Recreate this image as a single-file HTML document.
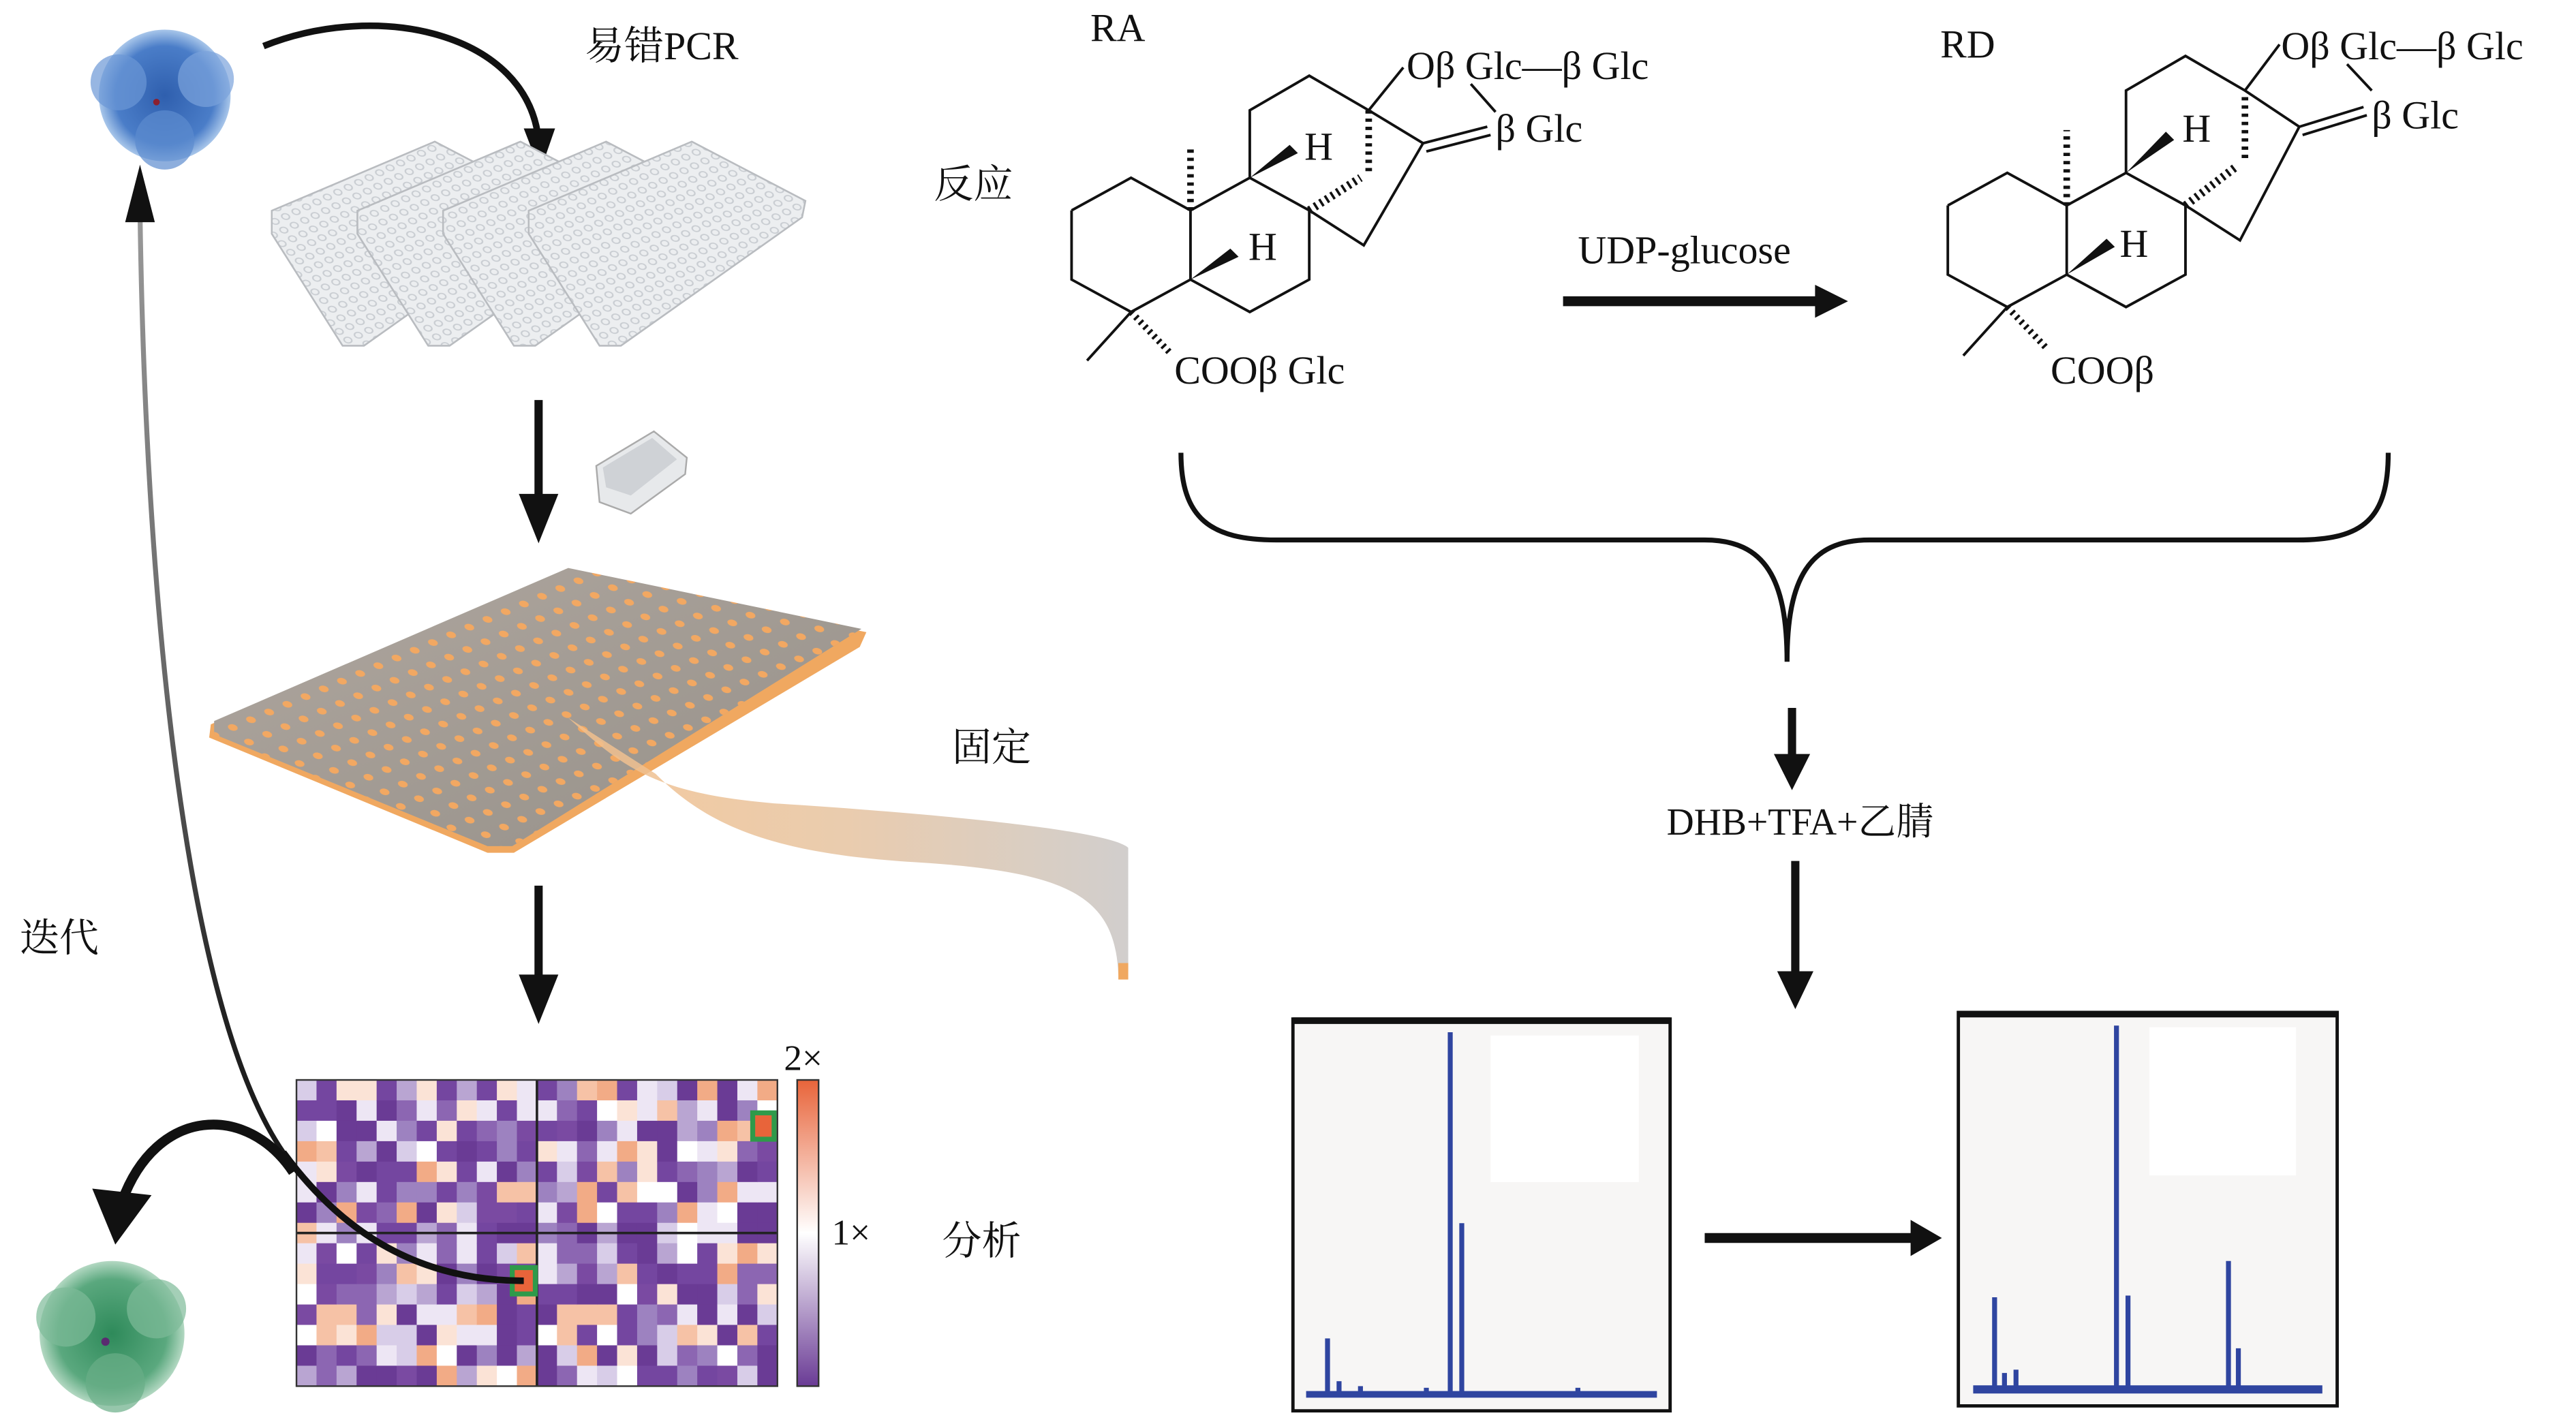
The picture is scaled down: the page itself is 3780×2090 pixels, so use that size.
<!DOCTYPE html>
<html><head><meta charset="utf-8"><style>
html,body{margin:0;padding:0;background:#fff;width:3780px;height:2090px;overflow:hidden}
svg{display:block}
.t{font-family:"Liberation Serif","Noto Serif CJK SC",serif;fill:#111}
.c{font-family:"Liberation Serif","Noto Serif CJK SC","Noto Sans CJK SC",serif;fill:#111}
</style></head><body>
<svg width="3780" height="2090" viewBox="0 0 1564 865" preserveAspectRatio="none" xmlns="http://www.w3.org/2000/svg">
<defs>
<pattern id="dots" width="12" height="12" patternUnits="userSpaceOnUse" patternTransform="rotate(-23) skewX(25)">
<circle cx="6" cy="6" r="2.4" fill="#f2a862"/></pattern>
<pattern id="wells" width="7" height="7" patternUnits="userSpaceOnUse" patternTransform="rotate(-25) skewX(20)">
<circle cx="3.5" cy="3.5" r="2" fill="none" stroke="#c9cdd2" stroke-width=".8"/></pattern>
<linearGradient id="pg" x1="0" y1="0" x2="1" y2="1"><stop offset="0" stop-color="#b0a79f"/><stop offset="1" stop-color="#959089"/></linearGradient>
<linearGradient id="rib" x1="0" y1="0" x2="1" y2="0"><stop offset="0" stop-color="#f2c08c"/><stop offset=".5" stop-color="#e6c3a0"/><stop offset="1" stop-color="#c9c6c4"/></linearGradient>
<linearGradient id="cb" x1="0" y1="0" x2="0" y2="1"><stop offset="0" stop-color="#e8643a"/><stop offset=".5" stop-color="#ffffff"/><stop offset="1" stop-color="#6a3b95"/></linearGradient>
<linearGradient id="it" x1="0" y1="0" x2="0" y2="1"><stop offset="0" stop-color="#999"/><stop offset=".45" stop-color="#666"/><stop offset=".75" stop-color="#222"/><stop offset="1" stop-color="#111"/></linearGradient>
<radialGradient id="bp"><stop offset="0" stop-color="#2f5fae"/><stop offset=".75" stop-color="#4a7dc8"/><stop offset="1" stop-color="#a8c6ea"/></radialGradient>
<radialGradient id="gp"><stop offset="0" stop-color="#2e8a5a"/><stop offset=".75" stop-color="#5aa87e"/><stop offset="1" stop-color="#b3d8c2"/></radialGradient>
</defs>

<g>
<circle cx="100" cy="58" r="40" fill="url(#bp)"/>
<circle cx="72" cy="50" r="17" fill="#6b97d6" opacity=".7"/>
<circle cx="125" cy="48" r="17" fill="#7aa3dc" opacity=".7"/>
<circle cx="100" cy="85" r="18" fill="#5d8ccf" opacity=".7"/>
<circle cx="95" cy="62" r="2" fill="#8a2030"/>
</g>
<g>
<circle cx="68" cy="810" r="44" fill="url(#gp)"/>
<circle cx="40" cy="800" r="18" fill="#7dbb98" opacity=".7"/>
<circle cx="95" cy="795" r="18" fill="#7dbb98" opacity=".7"/>
<circle cx="70" cy="840" r="18" fill="#6aae88" opacity=".7"/>
<circle cx="64" cy="815" r="2.5" fill="#5a2a70"/>
</g>

<path d="M160,28 C230,0 320,20 327,85" fill="none" stroke="#111" stroke-width="4"/>
<polygon points="318,78 337,78 328,104" fill="#111"/>
<text x="355" y="36" class="c" font-size="24">易错PCR</text>

<g stroke="#b9bcc0" stroke-width="1">
<polygon points="165,128 264,86 333,122 331,132 221,210 208,210 165,142" fill="#eceef0"/>
<polygon points="165,128 264,86 333,122 331,132 221,210 208,210 165,142" fill="url(#wells)"/>
<polygon points="217,128 316,86 385,122 383,132 273,210 260,210 217,142" fill="#eceef0"/>
<polygon points="217,128 316,86 385,122 383,132 273,210 260,210 217,142" fill="url(#wells)"/>
<polygon points="269,128 368,86 437,122 435,132 325,210 312,210 269,142" fill="#eceef0"/>
<polygon points="269,128 368,86 437,122 435,132 325,210 312,210 269,142" fill="url(#wells)"/>
<polygon points="321,128 420,86 489,122 487,132 377,210 364,210 321,142" fill="#eceef0"/>
<polygon points="321,128 420,86 489,122 487,132 377,210 364,210 321,142" fill="url(#wells)"/>
</g>
<line x1="327" y1="243" x2="327" y2="308" stroke="#111" stroke-width="5"/>
<polygon points="315,300 339,300 327,330" fill="#111"/>
<polygon points="362,283 397,262 417,278 416,288 383,312 364,305" fill="#e7e9eb" stroke="#aaa" stroke-width="1"/>
<polygon points="366,284 396,266 411,279 383,301 368,296" fill="#cfd2d6"/>

<polygon points="128,440 345,347 526,384 522,393 312,518 296,518 127,448" fill="#f0a860"/>
<polygon points="130,438 345,345 523,382 311,514 296,514 130,446" fill="url(#pg)"/>
<polygon points="130,438 345,345 523,382 311,514 296,514 130,446" fill="url(#dots)"/>
<path d="M345,436 C380,468 400,482 470,488 C580,495 675,505 685,515 L685,590 L679,592 C677,545 650,530 560,524 C470,519 430,502 398,470 Z" fill="url(#rib)" opacity=".85"/>
<rect x="679" y="585" width="6" height="10" fill="#f0a860"/>
<text x="578" y="462" class="c" font-size="24">固定</text>

<line x1="327" y1="538" x2="327" y2="598" stroke="#111" stroke-width="5"/>
<polygon points="315,592 339,592 327,622" fill="#111"/>

<rect x="180" y="656" width="292" height="186" fill="#6d3f99"/>
<g id="hm"></g>
<line x1="326" y1="656" x2="326" y2="842" stroke="#222" stroke-width="1.5"/>
<line x1="180" y1="749" x2="472" y2="749" stroke="#222" stroke-width="1.5"/>
<rect x="180" y="656" width="292" height="186" fill="none" stroke="#333" stroke-width="1"/>
<rect x="457" y="676" width="13" height="16" fill="#e8643a" stroke="#2f9a4a" stroke-width="3"/>
<rect x="311" y="770" width="14" height="16" fill="#e8643a" stroke="#2f9a4a" stroke-width="3"/>
<rect x="484" y="656" width="13" height="186" fill="url(#cb)" stroke="#333" stroke-width="1"/>
<text x="476" y="650" class="t" font-size="22">2×</text>
<text x="505" y="756" class="t" font-size="22">1×</text>
<text x="572" y="762" class="c" font-size="24">分析</text>
<text x="12" y="578" class="c" font-size="24">迭代</text>

<path d="M318,778 C250,778 205,745 172,700 C110,610 88,350 85,128" fill="none" stroke="url(#it)" stroke-width="3"/>
<polygon points="76,135 94,135 85,100" fill="#111"/>
<path d="M318,778 C250,778 205,745 172,700" fill="none" stroke="#111" stroke-width="4"/>
<path d="M178,712 C150,670 95,672 74,730" fill="none" stroke="#111" stroke-width="6"/>
<polygon points="56,722 92,726 70,756" fill="#111"/>

<text x="662" y="25" class="t" font-size="24">RA</text>
<text x="567" y="120" class="c" font-size="24">反应</text>
<g fill="none" stroke="#111" stroke-width="1.6">
<polyline points="650.6,127.8 686.7,108 722.8,127.8 722.8,169.8 686.7,189.5 650.6,169.8 650.6,127.8"/>
<polyline points="722.8,127.8 758.8,108 794.9,127.8 794.9,169.8 758.8,189.5 722.8,169.8"/>
<polyline points="758.8,108 758.8,67 794.9,46 831,67 864,87 828,149 794.9,127.8"/>
<line x1="831" y1="67" x2="852" y2="41"/>
<line x1="893" y1="51" x2="908" y2="68"/>
<line x1="864" y1="87" x2="903" y2="77"/>
<line x1="866" y1="92" x2="905" y2="82"/>
<line x1="686.7" y1="189.5" x2="660" y2="219"/>
<line x1="831" y1="67" x2="831" y2="104" stroke-dasharray="2,3" stroke-width="4"/>
<line x1="722.8" y1="127.8" x2="722.8" y2="88" stroke-dasharray="2,3" stroke-width="4"/>
<line x1="794.9" y1="127.8" x2="826" y2="108" stroke-dasharray="1.5,2.5" stroke-width="5"/>
<line x1="686.7" y1="189.5" x2="711" y2="215" stroke-dasharray="1.5,2.5" stroke-width="4"/>
</g>
<polygon points="758.8,108 783,88 788,93" fill="#111"/>
<polygon points="722.8,169.8 747,151 752,156" fill="#111"/>
<text x="792" y="97" class="t" font-size="24">H</text>
<text x="758" y="158" class="t" font-size="24">H</text>
<text x="854" y="48" class="t" font-size="24">Oβ Glc—β Glc</text>
<text x="908" y="86" class="t" font-size="24">β Glc</text>
<text x="713" y="233" class="t" font-size="24">COOβ Glc</text>

<text x="958" y="160" class="t" font-size="24">UDP-glucose</text>
<line x1="949" y1="183" x2="1105" y2="183" stroke="#111" stroke-width="6"/>
<polygon points="1102,173 1122,183 1102,193" fill="#111"/>

<text x="1178" y="35" class="t" font-size="24">RD</text>
<g fill="none" stroke="#111" stroke-width="1.6" transform="translate(532,-3)">
<polyline points="650.6,127.8 686.7,108 722.8,127.8 722.8,169.8 686.7,189.5 650.6,169.8 650.6,127.8"/>
<polyline points="722.8,127.8 758.8,108 794.9,127.8 794.9,169.8 758.8,189.5 722.8,169.8"/>
<polyline points="758.8,108 758.8,58 794.9,37 831,58 864,80 828,149 794.9,127.8"/>
<line x1="831" y1="58" x2="852" y2="30"/>
<line x1="893" y1="42" x2="908" y2="58"/>
<line x1="864" y1="80" x2="903" y2="68"/>
<line x1="866" y1="85" x2="905" y2="73"/>
<line x1="686.7" y1="189.5" x2="660" y2="219"/>
<line x1="831" y1="62" x2="831" y2="100" stroke-dasharray="2,3" stroke-width="4"/>
<line x1="722.8" y1="127.8" x2="722.8" y2="82" stroke-dasharray="2,3" stroke-width="4"/>
<line x1="794.9" y1="127.8" x2="826" y2="104" stroke-dasharray="1.5,2.5" stroke-width="5"/>
<line x1="686.7" y1="189.5" x2="711" y2="215" stroke-dasharray="1.5,2.5" stroke-width="4"/>
<polygon points="758.8,108 783,83 788,88" fill="#111" stroke="none"/>
<polygon points="722.8,169.8 747,148 752,153" fill="#111" stroke="none"/>
</g>
<text x="1325" y="86" class="t" font-size="24">H</text>
<text x="1287" y="156" class="t" font-size="24">H</text>
<text x="1385" y="36" class="t" font-size="24">Oβ Glc—β Glc</text>
<text x="1440" y="78" class="t" font-size="24">β Glc</text>
<text x="1245" y="233" class="t" font-size="24">COOβ</text>

<path d="M717,275 C717,315 735,328 775,328 L1035,328 C1072,328 1085,352 1085,402 C1085,352 1098,328 1135,328 L1395,328 C1435,328 1450,315 1450,275" fill="none" stroke="#111" stroke-width="3"/>
<line x1="1088" y1="430" x2="1088" y2="462" stroke="#111" stroke-width="5"/>
<polygon points="1077,458 1099,458 1088,480" fill="#111"/>
<text x="1093" y="507" class="c" font-size="23" text-anchor="middle">DHB+TFA+乙腈</text>
<line x1="1090" y1="523" x2="1090" y2="592" stroke="#111" stroke-width="5"/>
<polygon points="1079,590 1101,590 1090,613" fill="#111"/>

<rect x="785" y="619" width="229" height="238" fill="#f7f6f5" stroke="#111" stroke-width="2"/>
<line x1="785" y1="620" x2="1014" y2="620" stroke="#111" stroke-width="4"/>
<rect x="905" y="629" width="90" height="89" fill="#fff"/>
<g stroke="#2f45a0" fill="none" stroke-width="3">
<line x1="793" y1="847" x2="1006" y2="847" stroke-width="4"/>
<line x1="806" y1="846" x2="806" y2="813"/>
<line x1="813" y1="846" x2="813" y2="839"/>
<line x1="826" y1="846" x2="826" y2="842"/>
<line x1="880.5" y1="846" x2="880.5" y2="627"/>
<line x1="887.5" y1="846" x2="887.5" y2="743"/>
<line x1="866" y1="846" x2="866" y2="843"/>
<line x1="958" y1="846" x2="958" y2="843"/>
</g>
<rect x="1189" y="615" width="230" height="239" fill="#f7f6f5" stroke="#111" stroke-width="2"/>
<line x1="1189" y1="616" x2="1419" y2="616" stroke="#111" stroke-width="4"/>
<rect x="1305" y="624" width="89" height="90" fill="#fff"/>
<g stroke="#2f45a0" fill="none" stroke-width="3">
<line x1="1198" y1="844" x2="1410" y2="844" stroke-width="5"/>
<line x1="1211" y1="843" x2="1211" y2="788"/>
<line x1="1217" y1="843" x2="1217" y2="834"/>
<line x1="1224" y1="843" x2="1224" y2="832"/>
<line x1="1285" y1="843" x2="1285" y2="623"/>
<line x1="1292" y1="843" x2="1292" y2="787"/>
<line x1="1353" y1="843" x2="1353" y2="766"/>
<line x1="1359" y1="843" x2="1359" y2="819"/>
</g>
<line x1="1035" y1="752" x2="1162" y2="752" stroke="#111" stroke-width="6"/>
<polygon points="1160,741 1179,752 1160,763" fill="#111"/>
</svg>
<script>
(function(){
var g=document.getElementById('hm');var s=12345;function r(){s=(s*1103515245+12345)%2147483648;return s/2147483648;}
var cols=['#6a3b95','#6a3b95','#6a3b95','#7446a0','#7446a0','#7a4aa2','#8c66b2','#9d82c0','#b9a5d2','#d8cde8','#ede6f4','#ffffff','#fbe3d6','#f6c2a6','#f2ab86'];
var ns='http://www.w3.org/2000/svg',w=292/24,h=186/15;
for(var i=0;i<24;i++)for(var j=0;j<15;j++){var e=document.createElementNS(ns,'rect');
e.setAttribute('x',180+i*w);e.setAttribute('y',656+j*h);e.setAttribute('width',w+0.3);e.setAttribute('height',h+0.3);
e.setAttribute('fill',cols[Math.floor(r()*cols.length)]);g.appendChild(e);}
})();
</script>
</body></html>
